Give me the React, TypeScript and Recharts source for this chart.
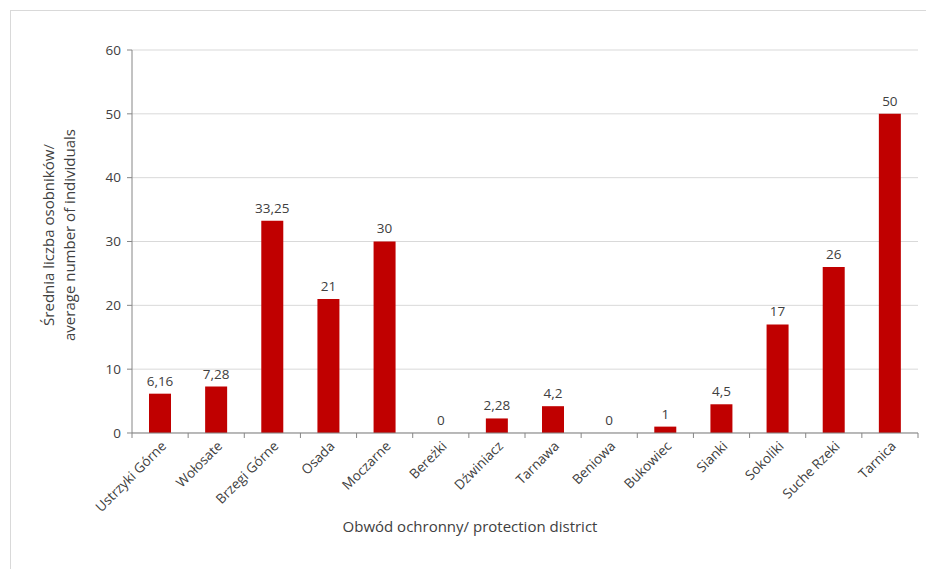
import React from 'react';
import { ComposedChart, Bar, Line, XAxis, YAxis, CartesianGrid, LabelList } from 'recharts';

const districts = [
  'Ustrzyki Górne',
  'Wołosate',
  'Brzegi Górne',
  'Osada',
  'Moczarne',
  'Bereżki',
  'Dźwiniacz',
  'Tarnawa',
  'Beniowa',
  'Bukowiec',
  'Sianki',
  'Sokoliki',
  'Suche Rzeki',
  'Tarnica',
];
const meanCounts = [6.16, 7.28, 33.25, 21, 30, 0, 2.28, 4.2, 0, 1, 4.5, 17, 26, 50];
const yTicks = [0, 10, 20, 30, 40, 50, 60];

const FONT = '"Open Sans", sans-serif';
const TEXT = '#404040';
const AXIS = '#868686';

// zero-height bars get no label from recharts, so the zeros ride on a hidden line
const data = districts.map((name, i) => ({
  name,
  value: meanCounts[i],
  zero: meanCounts[i] === 0 ? 0 : null,
}));

function DistrictTick(props: any) {
  const { x, y, payload, width, visibleTicksCount, index } = props;
  const bw = width / visibleTicksCount;
  return (
    <g>
      <line x1={x - bw / 2} y1={y} x2={x - bw / 2} y2={y + 5} stroke={AXIS} />
      {index === visibleTicksCount - 1 && (
        <line x1={x + bw / 2} y1={y} x2={x + bw / 2} y2={y + 5} stroke={AXIS} />
      )}
      <text
        x={x + 7}
        y={y + 14}
        transform={`rotate(-45 ${x + 7} ${y + 14})`}
        textAnchor="end"
        fontSize={13.5}
        fill={TEXT}
        fontFamily={FONT}
      >
        {payload.value}
      </text>
    </g>
  );
}

function ValueLabel(props: any) {
  const { x, y, width, value } = props;
  if (value == null) return null;
  const cx = width ? x + width / 2 : x;
  return (
    <text x={cx} y={y - 8} textAnchor="middle" fontSize={13.5} fill={TEXT} fontFamily={FONT}>
      {String(value).replace('.', ',')}
    </text>
  );
}

function YTitle() {
  const cy = 235;
  return (
    <text transform={`rotate(-90 59 ${cy})`} x={59} y={cy} textAnchor="middle" fontSize={15} fill={TEXT} fontFamily={FONT}>
      <tspan x={59} dy={-5}>Średnia liczba osobników/</tspan>
      <tspan x={59} dy={21}>average number of individuals</tspan>
    </text>
  );
}

function XTitle() {
  return (
    <text x={470} y={532} textAnchor="middle" fontSize={15} fill={TEXT} fontFamily={FONT}>
      Obwód ochronny/ protection district
    </text>
  );
}

export default function App() {
  return (
    <div
      style={{
        position: 'absolute',
        left: 0,
        top: 0,
        width: 926,
        height: 569,
        background: '#fff',
        overflow: 'hidden',
      }}
    >
      <div
        style={{
          position: 'absolute',
          left: 10,
          top: 10,
          width: 940,
          height: 600,
          border: '1px solid #d9d9d9',
        }}
      />
      <ComposedChart
        width={926}
        height={569}
        data={data}
        margin={{ top: 50, right: 8, left: 82, bottom: 136 }}
        style={{ position: 'absolute', left: 0, top: 0 }}
      >
        <CartesianGrid vertical={false} stroke="#d9d9d9" />
        <XAxis
          dataKey="name"
          interval={0}
          height={0.001}
          tickSize={0}
          tickMargin={0}
          tickLine={false}
          axisLine={{ stroke: AXIS }}
          tick={<DistrictTick />}
          label={<XTitle />}
        />
        <YAxis
          width={50}
          domain={[0, 60]}
          ticks={yTicks}
          interval={0}
          tickSize={5}
          tickMargin={6}
          axisLine={{ stroke: AXIS }}
          tickLine={{ stroke: AXIS }}
          tick={{ fontSize: 13.5, fill: TEXT, fontFamily: FONT }}
          label={<YTitle />}
        />
        <Bar dataKey="value" fill="#C00000" barSize={22} isAnimationActive={false}>
          <LabelList dataKey="value" content={<ValueLabel />} />
        </Bar>
        <Line
          dataKey="zero"
          stroke="none"
          dot={false}
          activeDot={false}
          connectNulls={false}
          isAnimationActive={false}
        >
          <LabelList dataKey="zero" content={<ValueLabel />} />
        </Line>
      </ComposedChart>
    </div>
  );
}
